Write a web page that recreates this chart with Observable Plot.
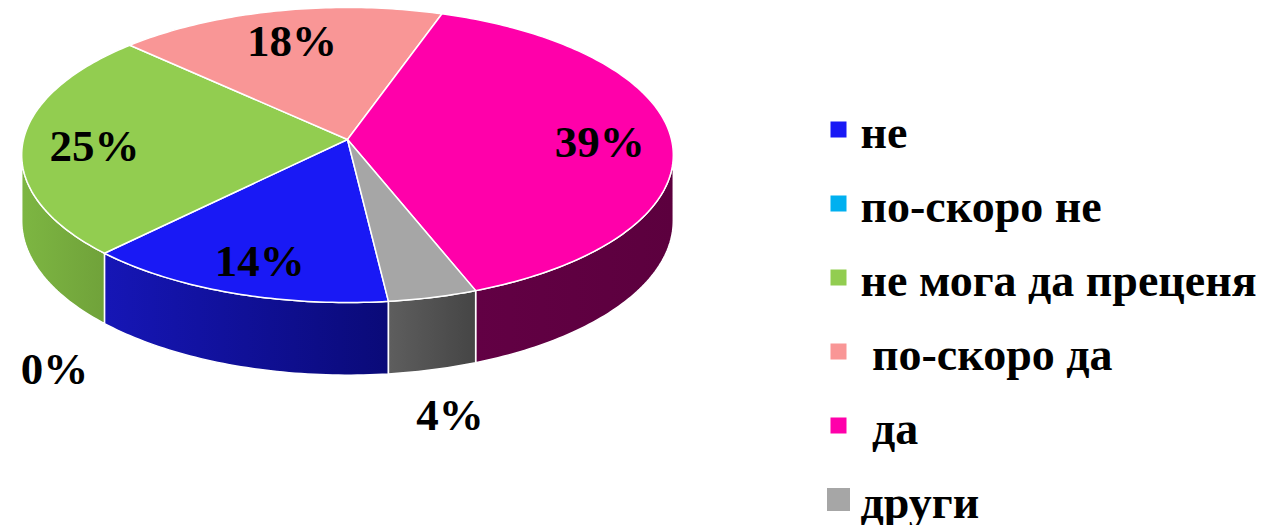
<!DOCTYPE html>
<html><head><meta charset="utf-8">
<script src="https://cdn.jsdelivr.net/npm/d3@7"></script>
<script src="https://cdn.jsdelivr.net/npm/@observablehq/plot@0.6"></script>
<style>
body{margin:0;background:#fff;}
#chart svg text{white-space:pre;}
</style>
</head><body>
<svg width="0" height="0" style="position:absolute">
  <defs>
    <linearGradient id="side0" x1="0" x2="1" y1="0" y2="0"><stop offset="0" stop-color="#1616b6"/><stop offset="1" stop-color="#0a0a78"/></linearGradient>
    <linearGradient id="side1" x1="0" x2="1" y1="0" y2="0"><stop offset="0" stop-color="#0090c8"/><stop offset="1" stop-color="#006a96"/></linearGradient>
    <linearGradient id="side2" x1="0" x2="1" y1="0" y2="0"><stop offset="0" stop-color="#7db642"/><stop offset="1" stop-color="#70a23a"/></linearGradient>
    <linearGradient id="side3" x1="0" x2="1" y1="0" y2="0"><stop offset="0" stop-color="#c07070"/><stop offset="1" stop-color="#a05858"/></linearGradient>
    <linearGradient id="side4" x1="0" x2="1" y1="0" y2="0"><stop offset="0" stop-color="#620044"/><stop offset="1" stop-color="#5c003e"/></linearGradient>
    <linearGradient id="side5" x1="0" x2="1" y1="0" y2="0"><stop offset="0" stop-color="#5e5e5e"/><stop offset="1" stop-color="#454545"/></linearGradient>
  </defs>
</svg>
<div id="chart"></div>
<script>
// ---- data ----
const categories = ["не", "по-скоро не", "не мога да преценя", " по-скоро да", " да", "други"];
const values = [14, 0, 25, 18, 39, 4];
const percentLabels = ["14%", "0%", "25%", "18%", "39%", "4%"];

// ---- styles ----
const topColors = ["#1919f5", "#00b0f0", "#92cd50", "#f99696", "#ff00aa", "#a6a6a6"];
const sideFills = ["url(#side0)", "url(#side1)", "url(#side2)", "url(#side3)", "url(#side4)", "url(#side5)"];
const legendSquare = [16, 16, 16, 16, 16, 23];

// ---- 3D pie geometry (perspective) ----
const W = 1265, H = 525;
const CX = 347, CY = 139, A = 324, B = 145.9, P = 0.105, D = 65, START = 173.5;
const rad = d => d * Math.PI / 180;
function proj(r, deg, h) {
  const t = rad(deg), s = 1 + P * r * Math.cos(t);
  return {x: CX + A * r * Math.sin(t) / s, y: CY - B * r * Math.cos(t) / s + h * D / s};
}
function arc(r, a, b, h) {
  const n = Math.max(2, Math.ceil(Math.abs(b - a)));
  return d3.range(n + 1).map(i => proj(r, a + (b - a) * i / n, h));
}
const total = d3.sum(values);
let acc = START;
const slices = values.map((v, i) => {
  const a = acc, b = acc + v / total * 360;
  acc = b;
  return {i, a, b, mid: (a + b) / 2, frac: v / total};
});

const visLo = Math.acos(-P) * 180 / Math.PI, visHi = 360 - visLo;
const topRows = [], sideRows = [];
for (const s of slices) {
  if (s.frac <= 0) continue;
  const c = proj(0, 0, 0);
  [c, ...arc(1, s.a, s.b, 0), c].forEach(p => topRows.push({...p, k: s.i, fill: topColors[s.i]}));
  for (const off of [0, -360, 360]) {
    const a = Math.max(s.a + off, visLo), b = Math.min(s.b + off, visHi);
    if (b > a) {
      const pts = [...arc(1, a, b, 0), ...arc(1, b, a, 1)];
      pts.push(pts[0]);
      pts.forEach(p => sideRows.push({...p, k: s.i + "_" + off, fill: sideFills[s.i]}));
    }
  }
}

// labels: inside on the top face, small slices below the side wall
const labelRows = slices.map(s => {
  if (s.frac >= 0.1) {
    const p = proj(0.78, s.mid, 0);
    return {x: p.x, y: p.y + 5, text: percentLabels[s.i]};
  }
  const p = proj(1, s.mid, 1);
  return {x: p.x + 72 * Math.sin(rad(s.mid)), y: p.y + 46, text: percentLabels[s.i]};
});

// legend layout
const LX = 838.5, LY0 = 129.5, LSTEP = 74;
const legendRows = categories.map((c, i) => ({
  x1: LX - legendSquare[i] / 2, x2: LX + legendSquare[i] / 2,
  y1: LY0 + i * LSTEP - legendSquare[i] / 2, y2: LY0 + i * LSTEP + legendSquare[i] / 2,
  fill: topColors[i], label: c, tx: 860, ty: LY0 + i * LSTEP + 3
}));

const chart = Plot.plot({
  width: W, height: H,
  margin: 0,
  x: {domain: [0, W], range: [0, W], axis: null},
  y: {domain: [0, H], range: [0, H], axis: null},
  color: {type: "identity"},
  style: {background: "#fff"},
  marks: [
    Plot.line(sideRows, {x: "x", y: "y", z: "k", fill: "fill", stroke: "#fff", strokeWidth: 1.5, strokeLinejoin: "round"}),
    Plot.line(topRows, {x: "x", y: "y", z: "k", fill: "fill", stroke: "#fff", strokeWidth: 1.5, strokeLinejoin: "round"}),
    Plot.text(labelRows, {x: "x", y: "y", text: "text", fontSize: 45, fontWeight: "bold", fontFamily: "Liberation Serif", fill: "#000", textAnchor: "middle"}),
    Plot.rect(legendRows, {x1: "x1", x2: "x2", y1: "y1", y2: "y2", fill: "fill"}),
    Plot.text(legendRows, {x: "tx", y: "ty", text: "label", fontSize: 46, fontWeight: "bold", fontFamily: "Liberation Serif", fill: "#000", textAnchor: "start"})
  ]
});
document.getElementById("chart").appendChild(chart);
</script>
</body></html>
